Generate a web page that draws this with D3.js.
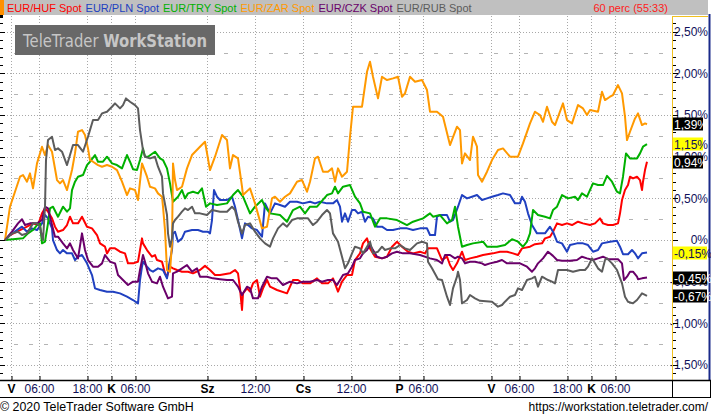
<!DOCTYPE html>
<html><head><meta charset="utf-8">
<script src="https://cdn.jsdelivr.net/npm/d3@7"></script>
<style>
html,body{margin:0;padding:0;background:#fff;overflow:hidden;}
svg{display:block;font-family:"Liberation Sans",Arial,sans-serif;}
</style></head><body>
<svg id="c" width="711" height="416"></svg>
<script>
// ---- data (hour index since start, % change) ----
const seriesNames = ["EUR/HUF Spot","EUR/PLN Spot","EUR/TRY Spot","EUR/ZAR Spot","EUR/CZK Spot","EUR/RUB Spot"];
const seriesColors = ["#ff0000","#2040c0","#00b000","#ff9900","#6a006a","#5c5c5c"];
const lastValues = [0.94,-0.15,1.15,1.39,-0.45,-0.67];
const lastLabels = ["0,94%","-0,15%","1,15%","1,39%","-0,45%","-0,67%"];
const badgeYellow = [false,true,true,false,false,false];

const hufData = [[0,0],[1.25,0.06],[3.75,0.12],[5.5,0.16],[7,0.2],[8.25,0.18],[9.25,0.32],[10,0.38],[10.75,0.34],[11.75,0.26],[12.5,0.16],[13.25,0.1],[14.5,0.12],[15.5,0.18],[16.25,0.28],[17,0.2],[18.25,0.2],[19.25,0.28],[20.5,0.16],[21.75,0.14],[23,0.06],[23.75,-0.04],[25,-0.08],[25.5,-0.16],[26.25,-0.1],[27.5,-0.1],[28.75,-0.14],[30,-0.16],[30.75,-0.28],[32,-0.28],[33.25,-0.26],[34.25,0.02],[34.5,-0.04],[35.5,-0.12],[36.75,-0.2],[37.5,-0.18],[38,-0.24],[39.25,-0.26],[40,-0.4],[40.5,-0.44],[41.25,-0.32],[42,-0.34],[43,-0.36],[44.25,-0.38],[45.75,-0.38],[47,-0.4],[48.75,-0.36],[50,-0.31],[51.25,-0.36],[52.5,-0.42],[53.75,-0.42],[56.25,-0.4],[57.5,-0.36],[58.25,-0.4],[58.75,-0.58],[59.25,-0.84],[59.5,-0.64],[60.5,-0.58],[61.25,-0.62],[62,-0.52],[63,-0.48],[63.75,-0.68],[64.5,-0.58],[65.5,-0.48],[66.25,-0.56],[68,-0.6],[70.5,-0.64],[72,-0.48],[73.25,-0.48],[74.5,-0.52],[76.25,-0.52],[78,-0.46],[79.25,-0.52],[80.75,-0.52],[82,-0.46],[83.25,-0.62],[84.25,-0.5],[85.5,-0.42],[86.75,-0.42],[87.5,-0.24],[88.75,-0.16],[89.5,-0.04],[90.5,0.02],[91.25,-0.1],[92.5,-0.2],[94.25,-0.22],[95.5,-0.2],[96.75,-0.08],[98,-0.02],[99.25,-0.08],[100.75,-0.14],[102,-0.16],[103.75,-0.14],[105,-0.16],[105.75,-0.1],[108,-0.1],[109.25,-0.24],[110.5,-0.2],[111.25,-0.3],[112,-0.36],[113,-0.28],[114.25,-0.14],[115,-0.24],[116.25,-0.22],[118,-0.2],[119.5,-0.18],[122,-0.16],[123.75,-0.14],[125.5,-0.14],[127,-0.16],[128.25,-0.18],[129.25,-0.1],[131.25,-0.08],[132.5,-0.05],[134.25,-0.04],[135,0.02],[136.25,0.04],[137,0.1],[138,0.2],[139.25,0.18],[140.5,0.2],[141.75,0.18],[143.25,0.22],[144.5,0.2],[146.25,0.18],[147.5,0.2],[148.75,0.26],[149.5,0.2],[150.75,0.18],[152,0.18],[153.25,0.2],[153.75,0.32],[154.25,0.48],[155,0.6],[155.75,0.66],[156.25,0.76],[157,0.74],[158,0.76],[158.75,0.72],[159.25,0.6],[159.5,0.7],[160,0.84],[160.5,0.94]];

const plnData = [[0,0],[1.25,0.06],[3,0.12],[4.25,0.16],[5.5,0.1],[6.75,0.14],[8,0.12],[9.25,0.2],[10,0.3],[10.75,0.26],[11.75,0.14],[12,0],[13,-0.12],[13.75,-0.16],[14.5,-0.12],[15.5,-0.16],[16.75,-0.16],[17.5,-0.24],[18.25,-0.2],[19.25,-0.18],[20.5,-0.28],[21.75,-0.42],[22.5,-0.58],[23.75,-0.6],[25.5,-0.62],[27,-0.62],[28.75,-0.64],[30.5,-0.68],[32,-0.72],[33.25,-0.76],[33.75,-0.48],[34.25,-0.32],[34.5,-0.26],[35.5,-0.32],[36.25,-0.36],[37,-0.38],[38.25,-0.34],[39.5,-0.36],[40.5,-0.46],[41,-0.3],[41.75,-0.12],[42,0.08],[42.5,0.1],[43.25,-0.02],[44.25,0.02],[45,0.1],[46.75,0.12],[48.25,0.12],[49.5,0.1],[50.75,0.1],[51.25,0.08],[51.75,0.24],[52.25,0.6],[53,0.52],[53.75,0.48],[55.5,0.48],[56.75,0.52],[57.5,0.4],[58.25,0.24],[59.25,0.02],[60,0.2],[60.75,0.18],[61.75,0.14],[63,0.12],[64.25,0.04],[65,0.44],[66.25,0.32],[67.5,0.44],[68.75,0.42],[70,0.4],[71.25,0.46],[73,0.46],[74.5,0.44],[76.25,0.46],[77.5,0.44],[78.75,0.46],[80.5,0.44],[82,0.44],[83,0.48],[83.75,0.4],[84.25,0.22],[85,0.32],[85.75,0.22],[86.75,0.36],[87.5,0.36],[88.25,0.32],[89.25,0.34],[90,0.22],[90.75,0.28],[92,0.26],[93,0.16],[94.25,0.16],[95.5,0.12],[97,0.12],[98.75,0.14],[100.5,0.14],[102,0.12],[103.75,0.14],[105.5,0.14],[106.25,0.06],[107.5,0.06],[108,0.28],[108.75,0.3],[110.5,0.3],[111.25,0.22],[112,0.24],[113.25,0.4],[114.25,0.54],[115.5,0.5],[116.75,0.52],[118,0.54],[119.25,0.48],[120.5,0.5],[121.75,0.52],[123.25,0.54],[124.5,0.56],[126.25,0.54],[127.5,0.44],[128.75,0.44],[129.25,0.52],[130,0.46],[130.75,0.32],[131.75,0.18],[133,0.08],[135,0.08],[136.25,0.16],[137,0.1],[138,-0.02],[139.25,-0.04],[140.5,-0.14],[141.25,-0.06],[143,-0.04],[144.5,-0.04],[145.75,-0.06],[147,-0.14],[148.25,-0.12],[149.25,-0.04],[151.25,-0.02],[153,-0.01],[153.75,-0.08],[154.5,-0.17],[155.75,-0.17],[156.75,-0.12],[157.5,-0.16],[158.25,-0.22],[159.25,-0.16],[160.5,-0.15]];

const tryData = [[0,0],[2,0.01],[4.5,0.02],[5.75,0.08],[7,0.12],[8,0.18],[8.75,0.2],[9.25,-0.04],[10,-0.02],[10.75,0.2],[11.25,0.38],[12,0.4],[13.25,0.28],[14.5,0.4],[15.5,0.34],[16.25,0.38],[16.75,0.6],[17.5,0.7],[18.25,0.76],[19.5,0.78],[20.5,0.9],[21.25,0.94],[22.5,1.02],[23.25,0.94],[24.5,0.94],[25.5,1.0],[26.75,0.92],[28,0.9],[29.25,0.86],[30.5,1.02],[31.25,0.94],[32,0.85],[33,0.84],[33.75,0.96],[34.5,1.1],[35,1.0],[35.75,1.0],[37.5,1.06],[38.75,0.98],[39.5,0.96],[40.5,0.86],[41.25,0.68],[42,0.46],[43.25,0.52],[44.25,0.6],[45,0.5],[45.75,0.56],[47,0.58],[48.25,0.56],[49.25,0.62],[50.25,0.4],[51.25,0.44],[53,0.42],[55.5,0.44],[57,0.54],[58.25,0.6],[59.5,0.52],[61.25,0.32],[62.5,0.4],[64.25,0.48],[65,0.4],[66.25,0.32],[68.75,0.3],[70.5,0.22],[72,0.36],[73.75,0.4],[75,0.32],[76.25,0.4],[78,0.4],[80.5,0.54],[81.75,0.56],[82.5,0.64],[83.25,0.56],[84.5,0.64],[86.25,0.66],[87.5,0.52],[88.75,0.44],[89.5,0.34],[91.25,0.32],[92.5,0.16],[93.75,0.26],[95.5,0.26],[98,0.24],[100.5,0.18],[102,0.22],[104.5,0.26],[106.25,0.32],[107,0.28],[108.75,0.3],[110.5,0.2],[111.75,0.24],[112.5,0.4],[113.25,0.16],[114.25,-0.08],[115.5,-0.06],[117,-0.04],[119.5,-0.02],[120.5,-0.08],[123,-0.08],[125,-0.06],[126.75,0.01],[128.25,-0.02],[129.5,-0.08],[130.5,-0.02],[131.25,0.08],[132,0.36],[133.25,0.3],[135,0.28],[136.25,0.26],[137,0.36],[138,0.4],[139.25,0.54],[140.75,0.5],[142.5,0.52],[143.25,0.48],[144.25,0.56],[145.5,0.52],[147,0.68],[148.25,0.66],[149.5,0.66],[150.5,0.77],[151.75,0.7],[153,0.58],[153.75,0.56],[154.5,0.76],[155.25,1.04],[156.25,0.98],[158,0.98],[158.75,1.04],[159.5,1.12],[160.5,1.15]];

const zarData = [[0,0],[1.25,0.4],[3.75,0.76],[4.5,0.78],[5.5,0.7],[6.25,0.8],[7,0.62],[8,0.92],[9.25,1.12],[10,1.02],[10.75,1.14],[11.75,1.06],[13,0.72],[13.75,0.68],[14.5,0.72],[15.5,0.6],[16.75,0.84],[17.5,1.04],[18.25,1.3],[19.25,1.32],[20,1.26],[20.75,1.1],[21.25,0.96],[22,0.94],[23.25,0.9],[24.25,0.88],[25.5,0.9],[26.75,0.88],[28,0.84],[29.25,0.7],[30.5,0.54],[31.25,0.62],[32.5,0.6],[33.25,0.48],[34.25,0.92],[35.5,0.76],[36.25,0.64],[37.5,0.62],[38.25,0.56],[39.25,0.52],[39.5,0.4],[40,0.12],[40.5,-0.36],[41.25,-0.38],[41.75,-0.04],[42,0.92],[42.5,0.72],[43,0.6],[44.25,0.64],[45.5,0.86],[46.75,1.02],[48.75,1.12],[50,1.18],[51.25,0.84],[52.5,1.0],[54.25,1.26],[55.5,1.2],[56.25,0.86],[57,1.02],[58.25,0.98],[59.25,0.64],[59.5,0.54],[61.25,0.62],[62.5,0.44],[64.25,0.14],[65.5,0.16],[66.75,0.5],[67.5,0.52],[68.75,0.46],[70,0.52],[71.25,0.56],[73,0.7],[74.25,0.72],[75.5,0.58],[76.25,0.7],[77.5,0.98],[78.25,1.0],[79.5,0.82],[80.75,0.82],[81.75,0.86],[82.5,0.7],[83.25,0.86],[84.25,0.76],[85.5,0.82],[86.25,1.24],[87,1.6],[89.25,1.6],[90.5,2.02],[91.25,2.14],[92,1.96],[93.25,1.7],[94.25,1.96],[95.5,1.92],[97,1.94],[98.25,1.96],[99.25,1.72],[100,1.76],[101.25,1.96],[102.5,1.9],[104.25,1.92],[105.5,1.8],[106.25,1.54],[108,1.54],[109.5,1.48],[111.25,1.14],[113,1.36],[113.75,1.32],[114.25,0.92],[115,1.04],[116.25,0.96],[117,1.24],[118,1.12],[118.25,0.78],[119.25,0.7],[120.5,0.82],[121.75,0.96],[123.25,1.08],[124.5,1.1],[126.25,1.0],[128.25,1.0],[129.5,1.16],[131.25,1.4],[132.5,1.54],[133.75,1.5],[134.5,1.42],[135.5,1.6],[136.75,1.42],[137.5,1.38],[139.5,1.64],[140.5,1.44],[141.75,1.4],[143.25,1.62],[144.5,1.58],[145.5,1.5],[146.25,1.56],[148.25,1.54],[149.25,1.78],[150,1.68],[151.25,1.72],[152,1.74],[153.25,1.86],[154.25,1.76],[155,1.48],[155.5,1.2],[156.25,1.3],[157.5,1.46],[158.25,1.52],[159.25,1.38],[160,1.4],[160.5,1.39]];

const czkData = [[0,0],[1.75,0.1],[3.25,0.2],[4.25,0.25],[5,0.18],[6.25,0.2],[8,0.2],[9.25,0.24],[10,0.4],[10.75,0.38],[11.75,0.18],[12.5,0.04],[13.25,0.04],[14.5,-0.04],[15.5,-0.1],[16.25,-0.04],[17,-0.12],[18.25,-0.22],[19.25,0.08],[20,-0.12],[20.75,-0.24],[22,-0.32],[23.25,-0.32],[24.25,-0.28],[25,-0.18],[26.25,-0.26],[27.5,-0.28],[28.25,-0.42],[29.5,-0.48],[30.75,-0.54],[32,-0.5],[33.25,-0.5],[33.75,-0.36],[34.5,-0.18],[35,-0.26],[35.75,-0.4],[36.75,-0.5],[38,-0.52],[38.75,-0.44],[39.5,-0.56],[40.75,-0.7],[41.75,-0.68],[42,-0.4],[43,-0.38],[44.25,-0.34],[45.5,-0.3],[46.75,-0.38],[48,-0.34],[48.75,-0.44],[50.5,-0.44],[52,-0.46],[53.75,-0.47],[55.5,-0.48],[57,-0.48],[58.25,-0.56],[59.25,-0.66],[60.5,-0.56],[61.25,-0.58],[62,-0.7],[63.25,-0.7],[64.25,-0.56],[65.5,-0.44],[66.75,-0.46],[68,-0.46],[69.5,-0.54],[71.25,-0.5],[73,-0.52],[74.5,-0.5],[76.25,-0.5],[78,-0.48],[79.25,-0.5],[80.75,-0.48],[82,-0.48],[83,-0.54],[83.75,-0.48],[84.5,-0.42],[85.75,-0.4],[86.75,-0.32],[87.5,-0.24],[88.75,-0.22],[89.5,-0.16],[90.5,-0.12],[91.25,-0.06],[92,-0.12],[93,-0.2],[94.25,-0.22],[95.5,-0.2],[96.75,-0.16],[98,-0.14],[99.5,-0.16],[101.25,-0.16],[103.75,-0.18],[106.25,-0.22],[108,-0.24],[109.25,-0.28],[110,-0.18],[111.25,-0.18],[112.5,-0.22],[113.25,-0.2],[114.25,-0.22],[115,-0.28],[116.25,-0.26],[117.5,-0.26],[119.25,-0.28],[120,-0.3],[121.25,-0.28],[123,-0.26],[124.25,-0.24],[125.5,-0.28],[127,-0.28],[128.75,-0.28],[130.5,-0.32],[131.75,-0.38],[132.5,-0.34],[133.25,-0.28],[134.5,-0.22],[135.75,-0.14],[137,-0.19],[138,-0.24],[139.25,-0.25],[141.25,-0.25],[143,-0.24],[144.25,-0.2],[145.5,-0.22],[147,-0.24],[148.25,-0.22],[149.5,-0.2],[150.75,-0.23],[153.25,-0.23],[154.25,-0.28],[154.75,-0.48],[155.5,-0.44],[156.25,-0.38],[157,-0.38],[158,-0.44],[158.25,-0.47],[159.25,-0.46],[160.5,-0.45]];

const rubData = [[0,0],[1.75,0.08],[3.25,0.1],[4.25,0.06],[5.5,0.08],[7,0.2],[8,0.2],[8.75,0.16],[9.25,0.04],[9.5,0],[10,0.4],[10.25,0.96],[10.75,1.2],[11.75,1.24],[12.5,1.08],[13.25,1.1],[14.25,1.06],[15.5,0.9],[16.25,1.02],[17,1.14],[18.25,1.14],[19.5,1.06],[20.75,1.24],[22,1.44],[23.25,1.44],[24.25,1.52],[25.5,1.54],[26.75,1.6],[27.5,1.64],[28.75,1.58],[29.5,1.62],[30.25,1.7],[31.25,1.66],[32.5,1.62],[33.25,1.58],[33.75,1.32],[34.5,1.08],[35,1.0],[36.25,0.98],[37.5,1.0],[38.25,0.88],[39.25,0.76],[39.5,0.56],[40.5,0.3],[40.75,0.08],[41.25,-0.08],[41.75,0.02],[42,0.2],[42.5,0.24],[43.25,0.28],[44.25,0.34],[45,0.38],[45.75,0.36],[46.75,0.4],[47.5,0.32],[48.75,0.32],[50.5,0.3],[51.75,0.36],[53.75,0.34],[55.5,0.34],[56.75,0.4],[57.5,0.36],[58.25,0.22],[59.25,0.08],[60,0.18],[61.25,0.2],[62.5,0.1],[63.75,0.02],[65,-0.04],[66.25,-0.08],[67,0.02],[68.25,0.14],[69.5,0.2],[70.5,0.16],[71.75,0.24],[73,0.26],[75.75,0.26],[77,0.18],[78,0.22],[79.25,0.3],[80.5,0.36],[81.25,0.32],[82,0.08],[83.25,-0.02],[84.25,-0.2],[85,-0.34],[85.75,-0.28],[86.75,-0.16],[87.5,-0.08],[88.75,-0.1],[89.5,-0.16],[90.5,-0.08],[91.25,-0.02],[92,-0.16],[93.25,-0.14],[94.25,-0.08],[95,-0.12],[96.25,-0.1],[97.5,-0.1],[98.75,-0.06],[100,-0.1],[101.25,-0.12],[103,-0.04],[104.25,-0.02],[105.5,-0.04],[105.75,-0.26],[106.75,-0.34],[108.25,-0.47],[109.25,-0.48],[110.5,-0.68],[111.25,-0.78],[112,-0.58],[113,-0.44],[113.25,-0.38],[113.75,-0.48],[114.25,-0.76],[115.5,-0.72],[116.25,-0.66],[117.5,-0.7],[118.75,-0.73],[121.75,-0.74],[123.25,-0.8],[124.25,-0.78],[125,-0.74],[126.25,-0.68],[127.5,-0.66],[128.25,-0.58],[129.25,-0.6],[130.5,-0.48],[131.75,-0.46],[132.5,-0.44],[133.25,-0.56],[134.25,-0.44],[135.75,-0.48],[136.75,-0.5],[137.5,-0.52],[138.25,-0.36],[140.5,-0.36],[142,-0.38],[143.75,-0.36],[145,-0.36],[145.75,-0.32],[146.75,-0.22],[147.5,-0.28],[148.25,-0.34],[149.25,-0.38],[150,-0.24],[150.5,-0.22],[151.75,-0.28],[153,-0.36],[154.25,-0.52],[155,-0.68],[155.75,-0.74],[157,-0.76],[158,-0.72],[159.25,-0.64],[160.5,-0.67]];

const seriesData = [hufData, plnData, tryData, zarData, czkData, rubData];

const yMajorTicks = [-1.5,-1,-0.5,0,0.5,1,1.5,2,2.5];
const yTickLabels = ["-1,50%","-1,00%","-0,50%","0%","0,50%","1,00%","1,50%","2,00%","2,50%"];
const xTicks = [1.5,8.5,20.5,26.5,32.5,50.5,62.5,74.5,86.5,98.5,104.5,121.5,128.5,140.5,146.5,152.5];
const xTickLabels = ["V","06:00","18:00","K","06:00","Sz","12:00","Cs","12:00","P","06:00","V","06:00","18:00","K","06:00"];
const periodLabel = "60 perc (55:33)";

// ---- layout ----
const W = 711, H = 416;
const plotL = 0, plotR = 672, plotT = 16, plotB = 380;
const svg = d3.select("#c");

const x = d3.scaleLinear().domain([0, 166.75]).range([5, 672]);
const y = d3.scaleLinear().domain([-1.5, 2.5]).range([365, 31.75]);

svg.append("rect").attr("width", W).attr("height", H).attr("fill", "#fff");

// grid: minor dashed
const minorTicks = d3.range(-1.25, 2.5, 0.5);
svg.append("g").selectAll("line").data(minorTicks).join("line")
  .attr("x1", plotL + 14).attr("x2", plotR)
  .attr("y1", d => Math.round(y(d)) + 0.5).attr("y2", d => Math.round(y(d)) + 0.5)
  .attr("stroke", "#b4b4b4").attr("stroke-width", 1).attr("stroke-dasharray", "4,11");
// grid: major dotted horizontals
svg.append("g").selectAll("line").data(yMajorTicks).join("line")
  .attr("x1", plotL + 4).attr("x2", plotR)
  .attr("y1", d => Math.round(y(d)) + 0.5).attr("y2", d => Math.round(y(d)) + 0.5)
  .attr("stroke", "#a8a8a8").attr("stroke-width", 1).attr("stroke-dasharray", "1,2");
// grid: vertical dotted
svg.append("g").selectAll("line").data(xTicks).join("line")
  .attr("x1", d => Math.round(x(d)) + 0.5).attr("x2", d => Math.round(x(d)) + 0.5)
  .attr("y1", plotT).attr("y2", plotB)
  .attr("stroke", "#a8a8a8").attr("stroke-width", 1).attr("stroke-dasharray", "1,2");

// left ruler ticks
const rulerTicks = d3.range(-17, 28).map(d => d / 10);
svg.append("g").selectAll("line").data(rulerTicks.filter(d => y(d) > plotT + 1 && y(d) < plotB - 1)).join("line")
  .attr("x1", 0).attr("x2", d => Math.abs(d * 2 - Math.round(d * 2)) < 1e-6 ? 5 : 3)
  .attr("y1", d => Math.round(y(d)) + 0.5).attr("y2", d => Math.round(y(d)) + 0.5)
  .attr("stroke", "#000").attr("stroke-width", 1);

// series lines
const line = d3.line().x(d => x(d[0])).y(d => y(d[1]));
svg.append("g").selectAll("path").data(seriesData).join("path")
  .attr("d", d => line(d))
  .attr("fill", "none")
  .attr("stroke", (d, i) => seriesColors[i])
  .attr("stroke-width", 2)
  .attr("stroke-linejoin", "round");

// watermark
const wm = svg.append("g");
wm.append("rect").attr("x", 15).attr("y", 25).attr("width", 200).attr("height", 30).attr("fill", "#686868");
const wmt = wm.append("text").attr("x", 23).attr("y", 47)
  .attr("font-size", 17).attr("fill", "#c6c6c6").attr("font-family", "'DejaVu Sans','Liberation Sans',sans-serif")
  .attr("textLength", 184).attr("lengthAdjust", "spacingAndGlyphs");
wmt.append("tspan").text("TeleTrader ");
wmt.append("tspan").attr("font-weight", "bold").text("WorkStation");

// right axis area
svg.append("rect").attr("x", plotR).attr("y", plotT).attr("width", W - plotR).attr("height", plotB - plotT).attr("fill", "#fff");
const rAxis = svg.append("g").attr("transform", `translate(${plotR + 0.5},0)`)
  .call(d3.axisRight(y).tickValues(yMajorTicks).tickFormat((d, i) => yTickLabels[i]).tickSize(0).tickPadding(0));
rAxis.select(".domain").remove();
rAxis.selectAll("text").attr("x", 35.5).attr("text-anchor", "end")
  .attr("font-size", 12).attr("font-family", "'Liberation Sans',Arial,sans-serif").attr("fill", "#10105a");
// right ruler ticks
svg.append("g").selectAll("line").data(rulerTicks.filter(d => y(d) > plotT + 1 && y(d) < plotB - 1)).join("line")
  .attr("x1", plotR + 1).attr("x2", d => Math.abs(d * 2 - Math.round(d * 2)) < 1e-6 ? plotR + 6 : plotR + 4)
  .attr("y1", d => Math.round(y(d)) + 0.5).attr("y2", d => Math.round(y(d)) + 0.5)
  .attr("stroke", "#000").attr("stroke-width", 1);
// yellow axis line and blue right border
svg.append("line").attr("x1", plotR + 0.5).attr("x2", plotR + 0.5).attr("y1", plotT).attr("y2", plotB).attr("stroke", "#f0c020").attr("stroke-width", 1);
svg.append("line").attr("x1", plotR).attr("x2", 708).attr("y1", plotT + 0.5).attr("y2", plotT + 0.5).attr("stroke", "#f0c020").attr("stroke-width", 1);
svg.append("line").attr("x1", 709.5).attr("x2", 709.5).attr("y1", 14).attr("y2", plotB).attr("stroke", "#1a2a8a").attr("stroke-width", 2);

// last-value badges
const badges = svg.append("g").selectAll("g").data(lastValues).join("g")
  .attr("transform", d => `translate(${plotR + 1},${Math.round(y(d))})`);
badges.append("rect").attr("x", 0).attr("y", -6.5).attr("height", 13)
  .attr("width", (d, i) => lastLabels[i].length >= 6 ? 34 : 30)
  .attr("fill", (d, i) => badgeYellow[i] ? "#ffff00" : "#000");
badges.append("text").attr("x", 1).attr("y", 4.5)
  .attr("font-size", 12).attr("font-family", "'Liberation Sans',Arial,sans-serif")
  .attr("fill", (d, i) => badgeYellow[i] ? "#10105a" : "#fff")
  .text((d, i) => lastLabels[i]);

// bottom axis
const bAxis = svg.append("g").attr("transform", `translate(0,${plotB})`)
  .call(d3.axisBottom(x).tickValues(xTicks).tickFormat((d, i) => xTickLabels[i]).tickSizeInner(-4).tickSizeOuter(0).tickPadding(4));
bAxis.select(".domain").remove();
bAxis.selectAll(".tick line").attr("stroke", "#000").attr("transform", "translate(0.5,0)");
bAxis.selectAll("text")
  .attr("font-size", 12).attr("font-family", "'Liberation Sans',Arial,sans-serif")
  .attr("font-weight", (d, i) => xTickLabels[i].includes(":") ? "normal" : "bold")
  .attr("fill", (d, i) => xTickLabels[i].includes(":") ? "#10105a" : "#000");
svg.append("line").attr("x1", 0).attr("x2", W).attr("y1", plotB + 0.5).attr("y2", plotB + 0.5).attr("stroke", "#000").attr("stroke-width", 1.5);
svg.append("line").attr("x1", 0).attr("x2", W).attr("y1", 397.5).attr("y2", 397.5).attr("stroke", "#000").attr("stroke-width", 1);
svg.append("line").attr("x1", plotR + 0.5).attr("x2", plotR + 0.5).attr("y1", plotB).attr("y2", 397).attr("stroke", "#000").attr("stroke-width", 1);
svg.append("line").attr("x1", 710.5).attr("x2", 710.5).attr("y1", plotB).attr("y2", 397).attr("stroke", "#000").attr("stroke-width", 1);

// top legend bar
svg.append("rect").attr("x", 0).attr("y", 0).attr("width", 708).attr("height", 15).attr("fill", "#c0c0c0");
svg.append("rect").attr("x", 0).attr("y", 0).attr("width", 4).attr("height", 15).attr("fill", "#ff9000");
svg.append("rect").attr("x", 0).attr("y", 15).attr("width", 3).attr("height", 3).attr("fill", "#000");
const legend = svg.append("text").attr("x", 7).attr("y", 12).attr("font-size", 11)
  .attr("font-family", "'Liberation Sans',Arial,sans-serif");
seriesNames.forEach((n, i) => {
  legend.append("tspan").attr("fill", seriesColors[i]).attr("dx", i ? 4 : 0).text(n);
});
svg.append("text").attr("x", 668).attr("y", 12).attr("text-anchor", "end").attr("font-size", 11)
  .attr("font-family", "'Liberation Sans',Arial,sans-serif").attr("fill", "#ff2020").text(periodLabel);

// footer
svg.append("text").attr("x", 0).attr("y", 411).attr("font-size", 12.4)
  .attr("font-family", "'Liberation Sans',Arial,sans-serif").attr("fill", "#000")
  .text("© 2020 TeleTrader Software GmbH");
svg.append("text").attr("x", 708).attr("y", 411).attr("text-anchor", "end").attr("font-size", 12)
  .attr("font-family", "'Liberation Sans',Arial,sans-serif").attr("fill", "#000")
  .text("https://workstation.teletrader.com/");
</script>
</body></html>
